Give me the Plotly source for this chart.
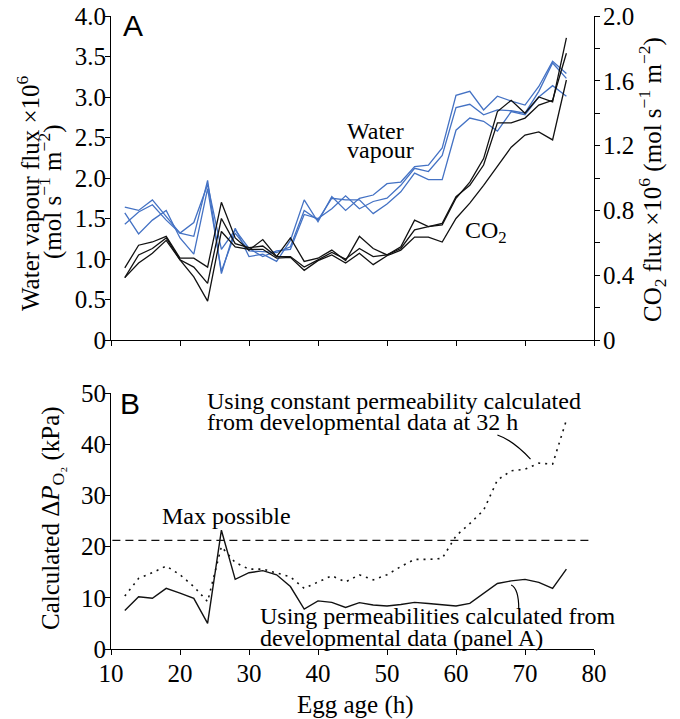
import plotly.graph_objects as go

# ---------------- data ----------------
hours = list(range(12, 77, 2))

# Panel A: water vapour flux (x10^6 mol s-1 m-2), left axis
water_1 = [1.64, 1.60, 1.73, 1.52, 1.32, 1.28, 1.97, 0.82, 1.38, 1.03, 1.06, 0.97, 1.23, 1.73, 1.46, 1.77, 1.60,
           1.75, 1.79, 1.93, 1.95, 2.14, 2.16, 2.37, 3.02, 3.07, 2.84, 3.01, 2.95, 2.90, 3.13, 3.44, 3.29]
water_2 = [1.57, 1.31, 1.48, 1.60, 1.26, 1.06, 1.87, 0.85, 1.32, 1.10, 1.09, 1.08, 1.15, 1.60, 1.48, 1.75, 1.73,
           1.73, 1.56, 1.68, 1.83, 2.06, 1.98, 1.98, 2.59, 2.74, 2.70, 2.58, 2.82, 2.78, 3.00, 3.14, 3.01]
water_3 = [1.43, 1.58, 1.67, 1.48, 1.32, 1.45, 1.92, 1.12, 1.36, 1.13, 1.03, 1.10, 1.12, 1.55, 1.50, 1.62, 1.78,
           1.62, 1.71, 1.75, 1.91, 2.12, 2.08, 2.28, 2.87, 2.91, 2.78, 2.84, 2.83, 2.80, 3.07, 3.42, 3.23]

# Panel A: CO2 flux (x10^6 mol s-1 m-2), right axis
co2_1 = [0.445, 0.585, 0.605, 0.64, 0.505, 0.505, 0.45, 0.85, 0.63, 0.555, 0.62, 0.515, 0.63, 0.485, 0.505, 0.555,
         0.49, 0.64, 0.565, 0.525, 0.575, 0.74, 0.70, 0.71, 0.875, 0.975, 1.12, 1.41, 1.48, 1.40, 1.50, 1.47, 1.865]
co2_2 = [0.385, 0.525, 0.565, 0.63, 0.495, 0.45, 0.35, 0.75, 0.595, 0.57, 0.58, 0.515, 0.515, 0.45, 0.495, 0.54,
         0.50, 0.565, 0.515, 0.525, 0.565, 0.68, 0.70, 0.72, 0.885, 0.955, 1.08, 1.34, 1.34, 1.37, 1.45, 1.48, 1.77]
co2_3 = [0.385, 0.475, 0.535, 0.615, 0.495, 0.39, 0.24, 0.67, 0.575, 0.56, 0.56, 0.505, 0.51, 0.43, 0.49, 0.525,
         0.475, 0.535, 0.465, 0.52, 0.555, 0.635, 0.635, 0.605, 0.75, 0.845, 0.955, 1.07, 1.19, 1.265, 1.285, 1.235, 1.605]

# Panel B: calculated delta PO2 (kPa)
dpo2_variable = [7.5, 10.2, 9.9, 11.85, 10.9, 9.9, 5.0, 23.2, 13.6, 14.9, 15.3, 14.5, 12.2, 7.8, 9.4, 9.1, 8.1,
                 9.05, 8.6, 8.4, 8.7, 9.1, 8.9, 8.7, 8.4, 8.9, 10.9, 12.8, 13.3, 13.6, 13.0, 11.85, 15.6]
dpo2_constant = [10.35, 13.8, 14.9, 16.2, 14.5, 12.2, 9.25, 20.0, 16.9, 15.6, 15.6, 14.8, 14.1, 11.85, 13.1, 14.3,
                 13.1, 14.5, 13.5, 14.5, 16.1, 17.5, 17.5, 17.7, 22.1, 24.5, 27.1, 33.0, 34.8, 35.1, 36.3, 36.1, 44.7]
max_possible = 21.2
max_span = [10.2, 79.4]

# ticks
x_ticks = [10, 20, 30, 40, 50, 60, 70, 80]
left_ticks = [0, 0.5, 1.0, 1.5, 2.0, 2.5, 3.0, 3.5, 4.0]
left_labels = ["0", "0.5", "1.0", "1.5", "2.0", "2.5", "3.0", "3.5", "4.0"]
right_ticks = [0, 0.4, 0.8, 1.2, 1.6, 2.0]
right_labels = ["0", "0.4", "0.8", "1.2", "1.6", "2.0"]
right_minor_step = 0.2
b_ticks = [0, 10, 20, 30, 40, 50]

# leader-line anchor points (panel B data coordinates)
leader_top = [(66.0, 41.8), (68.2, 40.8), (70.8, 37.1)]
leader_bottom = [(68.0, 12.5), (69.1, 11.8), (69.1, 7.75)]

# ---------------- layout helpers ----------------
W, H = 680, 719
# plot area in page pixels: x 111..594, y 16..649
ML, MT = 111, 16
MR = W - 594
MB = H - 649
PW, PH = W - ML - MR, H - MT - MB


def px(xp):
    return (xp - ML) / PW


def py(yp):
    return (H - MB - yp) / PH


SERIF = "Liberation Serif"
BLUE = "#4472C4"
BLACK = "#111111"

fig = go.Figure()
for s in (water_1, water_2, water_3):
    fig.add_trace(go.Scatter(x=hours, y=s, mode="lines", line=dict(color=BLUE, width=1.3),
                             xaxis="x", yaxis="y", showlegend=False, hoverinfo="skip"))
for s in (co2_1, co2_2, co2_3):
    fig.add_trace(go.Scatter(x=hours, y=s, mode="lines", line=dict(color=BLACK, width=1.3),
                             xaxis="x", yaxis="y2", showlegend=False, hoverinfo="skip"))

fig.add_trace(go.Scatter(x=max_span, y=[max_possible, max_possible], mode="lines",
                         line=dict(color=BLACK, width=1.3, dash="8px,5px"),
                         xaxis="x2", yaxis="y3", showlegend=False, hoverinfo="skip"))
fig.add_trace(go.Scatter(x=hours, y=dpo2_constant, mode="lines",
                         line=dict(color=BLACK, width=1.6, dash="2px,5px"),
                         xaxis="x2", yaxis="y3", showlegend=False, hoverinfo="skip"))
fig.add_trace(go.Scatter(x=hours, y=dpo2_variable, mode="lines",
                         line=dict(color=BLACK, width=1.4),
                         xaxis="x2", yaxis="y3", showlegend=False, hoverinfo="skip"))

tickfont = dict(family=SERIF, size=25, color="black")
axis_common = dict(showline=True, linecolor="black", linewidth=1.2, ticks="outside", ticklen=5,
                   tickwidth=1.2, tickcolor="black", showgrid=False, zeroline=False, tickfont=tickfont,
                   automargin=False, ticklabeloverflow="allow")

yA_bottom = py(340)
yB_top = py(393)

fig.update_layout(
    width=W, height=H,
    margin=dict(l=ML, r=MR, t=MT, b=MB, pad=0, autoexpand=False),
    paper_bgcolor="white", plot_bgcolor="white",
    font=dict(family=SERIF, size=24, color="black"),
    xaxis=dict(domain=[0, 1], anchor="y", range=[10, 80], tickvals=x_ticks, showticklabels=False,
               **axis_common),
    yaxis=dict(domain=[yA_bottom, 1], anchor="x", range=[0, 4.0], tickvals=left_ticks, ticktext=left_labels,
               ticklabelstandoff=-6, **axis_common),
    yaxis2=dict(overlaying="y", side="right", anchor="x", range=[0, 2.0], tickvals=right_ticks,
                ticktext=right_labels, ticklabelstandoff=-2,
                minor=dict(tick0=0, dtick=right_minor_step, ticks="outside", ticklen=5, tickwidth=1.2,
                           tickcolor="black", showgrid=False),
                **axis_common),
    xaxis2=dict(domain=[0, 1], anchor="y3", range=[10, 80], tickvals=x_ticks,
                ticktext=[str(v) for v in x_ticks], ticklabelstandoff=-3, **axis_common),
    yaxis3=dict(domain=[0, yB_top], anchor="x2", range=[0, 50], tickvals=b_ticks,
                ticktext=[str(v) for v in b_ticks], ticklabelstandoff=-6, **axis_common),
)


def ann(text, xp, yp, size=24, family=SERIF, xanchor="left", angle=0):
    fig.add_annotation(text=text, x=px(xp), y=py(yp), xref="paper", yref="paper",
                       xanchor=xanchor, yanchor="middle", showarrow=False, textangle=angle,
                       font=dict(family=family, size=size, color="black"))


ann("A", 121, 26, size=30, family="Liberation Sans")
ann("B", 118, 403, size=30, family="Liberation Sans")
ann("Water", 345, 130.5)
ann("vapour", 345, 150)
ann("CO<sub>2</sub>", 463, 232)
ann("Using constant permeability calculated", 205, 400.5)
ann("from developmental data at 32 h", 205, 422)
ann("Max possible", 160, 515.5)
ann("Using permeabilities calculated from", 258, 615.5)
ann("developmental data (panel A)", 258, 638)

ann("Water vapour flux \u00d710<sup>6</sup>", 28, 193, size=25, xanchor="center", angle=-90)
ann("(mol s<sup>\u22121</sup> m<sup>\u22122</sup>)", 51, 192, size=25, xanchor="center", angle=-90)
ann("CO<sub>2</sub> flux \u00d710<sup>6</sup> (mol s<sup>\u22121</sup> m<sup>\u22122</sup>)", 652, 180, size=25,
    xanchor="center", angle=-90)
ann("Calculated \u0394<i>P</i><sub>O\u2082</sub> (kPa)", 52, 518, size=25, xanchor="center", angle=-90)
ann("Egg age (h)", 355, 705, size=25, xanchor="center")


def curve(pts):
    (x0, y0), (cx, cy), (x1, y1) = pts
    return f"M {x0},{y0} Q {cx},{cy} {x1},{y1}"


for pts in (leader_top, leader_bottom):
    fig.add_shape(type="path", path=curve(pts), xref="x2", yref="y3",
                  line=dict(color="black", width=1.2))

# remove the browser's default 8px page margin so the figure sits at the page origin
fig.write_html("out.html", config={"displayModeBar": False},
               post_script="document.body.style.margin='0';")
